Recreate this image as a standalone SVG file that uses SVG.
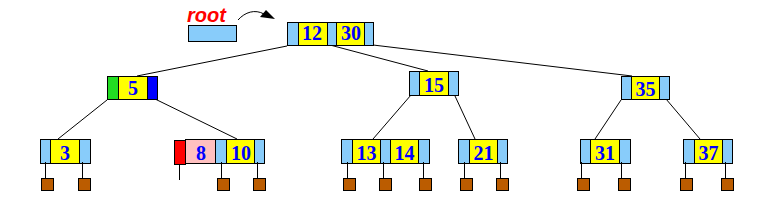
<svg xmlns="http://www.w3.org/2000/svg" width="770" height="204" viewBox="0 0 770 204">
<style>
rect{stroke:#000;stroke-width:1}
.lb{fill:#88ccfa}
.y{fill:#ffff00}
.pk{fill:#ffc0c0}
.rd{fill:#ff0000}
.gr{fill:#22dd22}
.db{fill:#0000ff}
.br{fill:#bb5c00}
text.n{font-family:"Liberation Serif",serif;font-weight:bold;font-size:20px;fill:#0000ff;text-anchor:middle}
line{stroke:#000;stroke-width:1}
</style>
<rect width="770" height="204" fill="#fff" style="stroke:none"/>
<g id="root-label">
<text x="187" y="21.5" style="font-family:'Liberation Sans',sans-serif;font-weight:bold;font-style:italic;font-size:20px;fill:#ff0000">root</text>
<rect class="lb" x="188.5" y="25.5" width="48" height="16"/>
<path d="M238,20 C245,12 255,9 264,14" fill="none" stroke="#000" stroke-width="1"/>
<polygon points="275,19 260,17 266,10" fill="#000"/>
</g>
<g id="connectors">
<line x1="287" y1="46" x2="137" y2="76"/>
<line x1="330" y1="45" x2="428" y2="71"/>
<line x1="373" y1="45" x2="632" y2="76"/>
<line x1="107" y1="100" x2="58" y2="139"/>
<line x1="153" y1="98" x2="237" y2="139"/>
<line x1="411" y1="95" x2="373" y2="139"/>
<line x1="455" y1="96" x2="475" y2="139"/>
<line x1="621" y1="100" x2="595" y2="139"/>
<line x1="666" y1="99" x2="700" y2="139"/>
</g>
<g id="node-12-30">
<rect class="lb" x="287.5" y="22.5" width="11" height="23"/>
<rect class="y" x="298.5" y="22.5" width="29" height="23"/>
<rect class="lb" x="327.5" y="22.5" width="9" height="23"/>
<rect class="y" x="336.5" y="22.5" width="28" height="23"/>
<rect class="lb" x="364.5" y="22.5" width="9" height="23"/>
<text class="n" x="312" y="39.5">12</text>
<text class="n" x="351" y="39.5">30</text>
</g>
<g id="node-5">
<rect class="gr" x="107.5" y="76.5" width="11" height="23"/>
<rect class="y" x="118.5" y="76.5" width="29" height="23"/>
<rect class="db" x="147.5" y="76.5" width="10" height="23"/>
<text class="n" x="133" y="94.5">5</text>
</g>
<g id="node-15">
<rect class="lb" x="409.5" y="71.5" width="10" height="24"/>
<rect class="y" x="419.5" y="71.5" width="29" height="24"/>
<rect class="lb" x="448.5" y="71.5" width="10" height="24"/>
<text class="n" x="434" y="92">15</text>
</g>
<g id="node-35">
<rect class="lb" x="621.5" y="76.5" width="10" height="23"/>
<rect class="y" x="631.5" y="76.5" width="28" height="23"/>
<rect class="lb" x="659.5" y="76.5" width="10" height="23"/>
<text class="n" x="645.5" y="96">35</text>
</g>
<g id="leaf-3">
<rect class="lb" x="40.5" y="139.5" width="10" height="24"/>
<rect class="y" x="50.5" y="139.5" width="29" height="24"/>
<rect class="lb" x="79.5" y="139.5" width="11" height="24"/>
<text class="n" x="65" y="160">3</text>
<line x1="45.5" y1="162" x2="45.5" y2="178"/><line x1="82.5" y1="162" x2="82.5" y2="178"/>
<rect class="br" x="41.5" y="178.5" width="12" height="12"/><rect class="br" x="78.5" y="178.5" width="12" height="12"/>
</g>
<g id="leaf-8-10">
<rect class="rd" x="174.5" y="140.5" width="11" height="24"/>
<rect class="pk" x="185.5" y="139.5" width="30" height="24"/>
<rect class="lb" x="215.5" y="139.5" width="11" height="24"/>
<rect class="y" x="226.5" y="139.5" width="28" height="24"/>
<rect class="lb" x="254.5" y="139.5" width="10" height="24"/>
<text class="n" x="201" y="160">8</text>
<text class="n" x="241" y="160">10</text>
<line x1="179.5" y1="164" x2="179.5" y2="180"/>
<line x1="221.5" y1="162" x2="221.5" y2="178"/><line x1="257.5" y1="162" x2="257.5" y2="178"/>
<rect class="br" x="217.5" y="178.5" width="12" height="12"/><rect class="br" x="253.5" y="178.5" width="12" height="12"/>
</g>
<g id="leaf-13-14">
<rect class="lb" x="341.5" y="139.5" width="11" height="24"/>
<rect class="y" x="352.5" y="139.5" width="28" height="24"/>
<rect class="lb" x="380.5" y="139.5" width="10" height="24"/>
<rect class="y" x="390.5" y="139.5" width="28" height="24"/>
<rect class="lb" x="418.5" y="139.5" width="11" height="24"/>
<text class="n" x="366.5" y="160">13</text>
<text class="n" x="404.5" y="160">14</text>
<line x1="347.5" y1="162" x2="347.5" y2="178"/><line x1="383.5" y1="162" x2="383.5" y2="178"/><line x1="423.5" y1="162" x2="423.5" y2="178"/>
<rect class="br" x="343.5" y="178.5" width="12" height="12"/><rect class="br" x="379.5" y="178.5" width="12" height="12"/><rect class="br" x="419.5" y="178.5" width="12" height="12"/>
</g>
<g id="leaf-21">
<rect class="lb" x="458.5" y="139.5" width="11" height="24"/>
<rect class="y" x="469.5" y="139.5" width="28" height="24"/>
<rect class="lb" x="497.5" y="139.5" width="10" height="24"/>
<text class="n" x="483.5" y="160">21</text>
<line x1="464.5" y1="162" x2="464.5" y2="178"/><line x1="500.5" y1="162" x2="500.5" y2="178"/>
<rect class="br" x="460.5" y="178.5" width="12" height="12"/><rect class="br" x="496.5" y="178.5" width="12" height="12"/>
</g>
<g id="leaf-31">
<rect class="lb" x="580.5" y="139.5" width="10" height="24"/>
<rect class="y" x="590.5" y="139.5" width="29" height="24"/>
<rect class="lb" x="619.5" y="139.5" width="11" height="24"/>
<text class="n" x="605" y="160">31</text>
<line x1="581.5" y1="162" x2="581.5" y2="178"/><line x1="621.5" y1="162" x2="621.5" y2="178"/>
<rect class="br" x="577.5" y="178.5" width="12" height="12"/><rect class="br" x="618.5" y="178.5" width="12" height="12"/>
</g>
<g id="leaf-37">
<rect class="lb" x="683.5" y="139.5" width="11" height="24"/>
<rect class="y" x="694.5" y="139.5" width="28" height="24"/>
<rect class="lb" x="722.5" y="139.5" width="10" height="24"/>
<text class="n" x="708.5" y="160">37</text>
<line x1="685.5" y1="162" x2="685.5" y2="178"/><line x1="725.5" y1="162" x2="725.5" y2="178"/>
<rect class="br" x="680.5" y="178.5" width="12" height="12"/><rect class="br" x="721.5" y="178.5" width="12" height="12"/>
</g>
</svg>
